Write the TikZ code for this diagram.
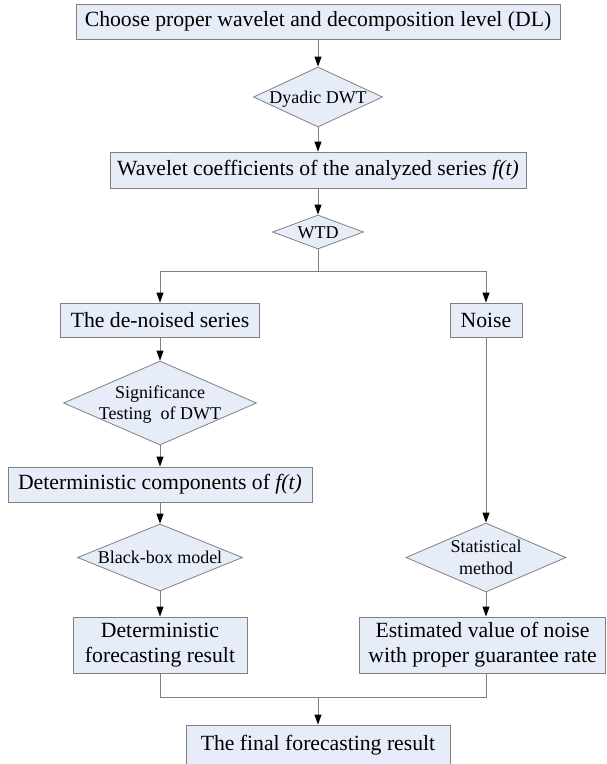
\documentclass[tikz,border=0pt]{standalone}
\usepackage{fontspec}
\setmainfont{Liberation Serif}
\usetikzlibrary{shapes.geometric,arrows.meta}
\definecolor{boxfill}{RGB}{230,237,248}
\definecolor{edgegray}{RGB}{128,128,128}
\newcommand{\dtxt}[1]{\raisebox{-0.34em}[0pt][0pt]{\makebox[0pt]{\begin{tabular}{@{}c@{}}#1\end{tabular}}}}
\begin{document}
\begin{tikzpicture}[x=1pt,y=-1pt,
  procbox/.style={rectangle,draw=edgegray,fill=boxfill,line width=0.9pt,inner sep=0pt,
    align=center,font=\fontsize{21.7}{25}\selectfont},
  decbox/.style={diamond,draw=edgegray,fill=boxfill,line width=0.8pt,inner sep=0pt,
    font=\fontsize{18}{21.6}\selectfont},
  conn/.style={draw=edgegray,line width=0.9pt},
  arr/.style={conn,-{Triangle[length=10pt,width=7pt,color=black]}}]
\useasboundingbox (0,0) rectangle (606,764);
% boxes
\node[procbox,minimum width=484,minimum height=35] (b1) at (318,21.5) {Choose proper wavelet and decomposition level (DL)};
\node[decbox,minimum width=129,minimum height=60] (d1) at (318,97) {\dtxt{Dyadic DWT}};
\node[procbox,minimum width=416,minimum height=36] (b2) at (318,170) {Wavelet coefficients of the analyzed series \textit{f(t)}};
\node[decbox,minimum width=91,minimum height=34] (d2) at (318,232) {\dtxt{WTD}};
\node[procbox,minimum width=199,minimum height=34] (b3) at (160,320) {The de-noised series};
\node[procbox,minimum width=72,minimum height=34] (b4) at (486,320) {Noise};
\node[decbox,minimum width=193,minimum height=84] (d3) at (160,403) {\dtxt{Significance\\Testing\ \ of DWT}};
\node[procbox,minimum width=304,minimum height=35] (b5) at (160,484.5) {Deterministic components of \textit{f(t)}};
\node[decbox,minimum width=165,minimum height=67] (d4) at (160,557.5) {\dtxt{Black-box model}};
\node[decbox,minimum width=160,minimum height=69] (d5) at (486,557.5) {\dtxt{Statistical\\method}};
\node[procbox,minimum width=174,minimum height=56] (b6) at (160,645) {Deterministic\\forecasting result};
\node[procbox,minimum width=246,minimum height=56] (b7) at (482.5,645) {Estimated value of noise\\with proper guarantee rate};
\node[procbox,minimum width=264,minimum height=40] (b8) at (318,745) {The final forecasting result};
% junction points
\coordinate (split) at (318,271.7);
\coordinate (join) at (318,697);
% connectors
\draw[arr] (b1) -- (d1);
\draw[arr] (d1) -- (b2);
\draw[arr] (b2) -- (d2);
\draw[conn] (d2.south) -- (split);
\draw[arr] (split) -| (b3.north);
\draw[arr] (split) -| (b4.north);
\draw[arr] (b3) -- (d3);
\draw[arr] (d3) -- (b5);
\draw[arr] (b5) -- (d4);
\draw[arr] (b4) -- (d5);
\draw[arr] (d4) -- (b6);
\draw[arr] (d5.south) -- (b7.north -| d5.south);
\draw[conn] (b6.south) |- (join);
\draw[conn] (b7.south -| d5.south) |- (join);
\draw[arr] (join) -- (b8.north);
\end{tikzpicture}
\end{document}
